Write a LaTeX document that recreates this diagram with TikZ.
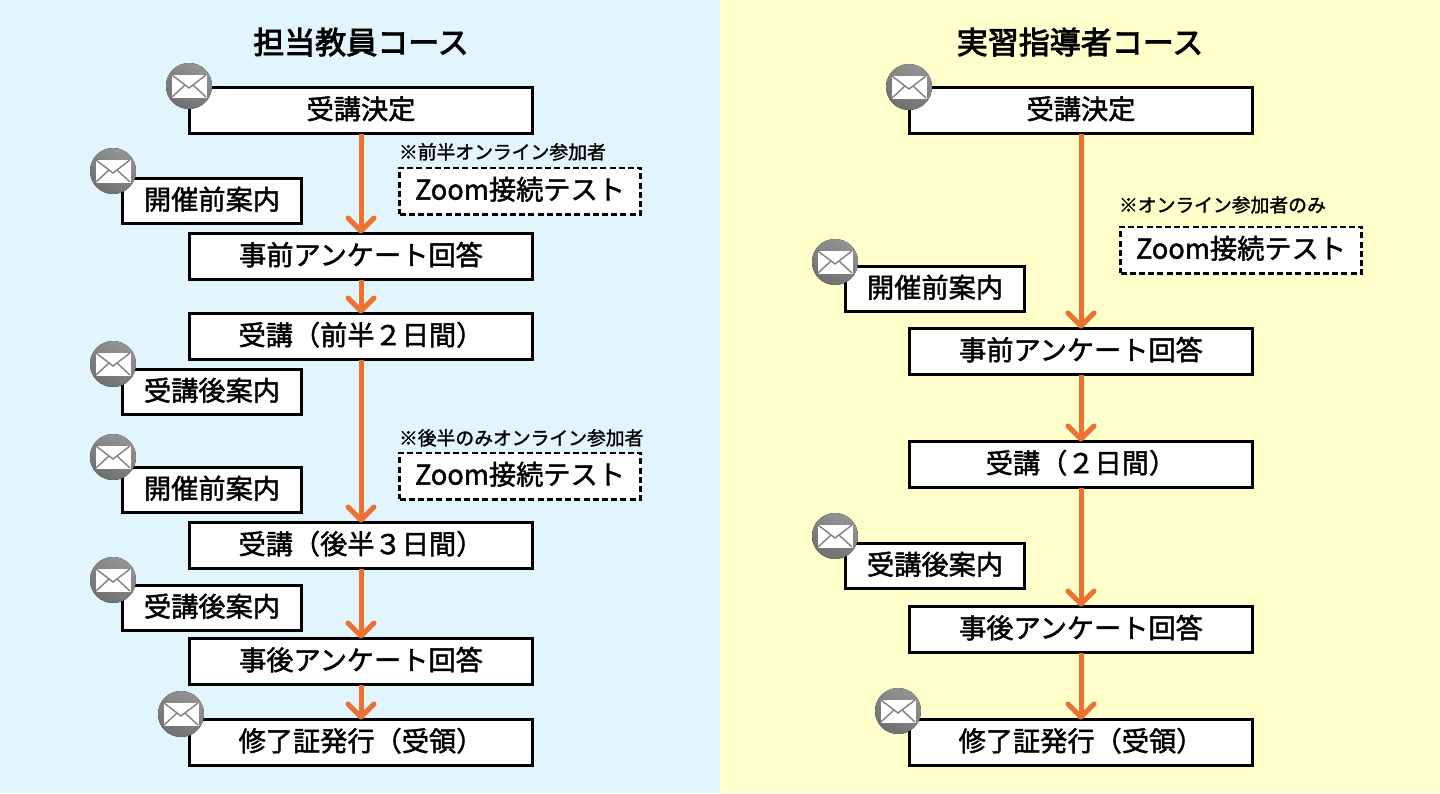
\documentclass[tikz,border=0pt]{standalone}
\usepackage{fontspec}
\setmainfont{Noto Sans CJK JP}[FakeBold=1.6]
\usetikzlibrary{arrows.meta}
\definecolor{panelblue}{HTML}{E2F5FD}
\definecolor{panelyellow}{HTML}{FFFFCC}
\definecolor{flowline}{HTML}{ED7231}
\tikzset{
	mailicon/.pic={
		\fill[top color=black!42, bottom color=black!56, shading angle=-30] (0,0) circle (23);
		\draw[white, fill=white] (-17,-11) rectangle (17,11);
		\draw[black!50, line width=0.7pt] (-17,-11) -- (0,2) -- (17,-11);
		\draw[black!50, line width=0.7pt] (-17,11) -- (-4,-1);
		\draw[black!50, line width=0.7pt] (17,11) -- (4,-1);
	}
}
\begin{document}
\begin{tikzpicture}[
		x=0.5pt, y=-0.5pt,
		every node/.style={font=\fontsize{13.6}{16}\selectfont, text=black, inner sep=0pt, outer sep=0pt, text height=11.8pt, text depth=3.2pt},
		stepbox/.style={draw=black, fill=white, line width=1.5pt, minimum width=171.5pt, minimum height=23pt},
		mailbox/.style={draw=black, fill=white, line width=1.5pt, minimum width=89.5pt, minimum height=22.6pt},
		testbox/.style={draw=black, fill=white, line width=1.1pt, dash pattern=on 3pt off 1.6pt, minimum width=120.5pt, minimum height=23.4pt},
		note/.style={font=\fontsize{9.4}{11}\selectfont, anchor=west, text height=8.2pt, text depth=1.2pt},
		heading/.style={font=\fontsize{15.5}{18}\selectfont\addfontfeature{FakeBold=2.8}, text height=13.6pt, text depth=1.8pt},
		flow/.style={draw=flowline, line width=2.5pt, -{Straight Barb[length=6.5pt, width=13pt, round]}}
	]
	\useasboundingbox (0,0) rectangle (1440,793);
	\fill[panelblue] (0,0) rectangle (720,793);
	\fill[panelyellow] (720,0) rectangle (1440,793);

	% left course
	\node[heading] (titleL) at (361,42) {担当教員コース};
	\node[stepbox] (decideL) at (361,110.5) {受講決定};
	\node[stepbox] (surveyL) at (361,256.5) {事前アンケート回答};
	\node[stepbox] (firstL) at (361,336.5) {受講（前半２日間）};
	\node[stepbox] (secondL) at (361,545.5) {受講（後半３日間）};
	\node[stepbox] (afterL) at (361,661.5) {事後アンケート回答};
	\node[stepbox] (certL) at (361,742.5) {修了証発行（受領）};
	\node[mailbox] (guideA) at (212,201) {開催前案内};
	\node[mailbox] (guideB) at (212,392) {受講後案内};
	\node[mailbox] (guideC) at (212,490) {開催前案内};
	\node[mailbox] (guideD) at (212,608) {受講後案内};
	\node[testbox] (testA) at (520,191) {Zoom接続テスト};
	\node[testbox] (testB) at (520,476) {Zoom接続テスト};
	\node[note] (noteA) at (399,152) {※前半オンライン参加者};
	\node[note] (noteB) at (399,438) {※後半のみオンライン参加者};
	\draw[flow] (decideL) -- (surveyL);
	\draw[flow] (surveyL) -- (firstL);
	\draw[flow] (firstL) -- (secondL);
	\draw[flow] (secondL) -- (afterL);
	\draw[flow] (afterL) -- (certL);
	\pic at (189,86) {mailicon};
	\pic at (113,171) {mailicon};
	\pic at (113,364) {mailicon};
	\pic at (113,457) {mailicon};
	\pic at (113,580) {mailicon};
	\pic at (181,714) {mailicon};

	% right course
	\node[heading] (titleR) at (1080,42) {実習指導者コース};
	\node[stepbox] (decideR) at (1081,110.5) {受講決定};
	\node[stepbox] (surveyR) at (1081,351.5) {事前アンケート回答};
	\node[stepbox] (daysR) at (1081,464.5) {受講（２日間）};
	\node[stepbox] (afterR) at (1081,629.5) {事後アンケート回答};
	\node[stepbox] (certR) at (1081,742.5) {修了証発行（受領）};
	\node[mailbox] (guideE) at (935,289) {開催前案内};
	\node[mailbox] (guideF) at (935,566) {受講後案内};
	\node[testbox] (testC) at (1241,250) {Zoom接続テスト};
	\node[note] (noteC) at (1119,205) {※オンライン参加者のみ};
	\draw[flow] (decideR) -- (surveyR);
	\draw[flow] (surveyR) -- (daysR);
	\draw[flow] (daysR) -- (afterR);
	\draw[flow] (afterR) -- (certR);
	\pic at (909,87) {mailicon};
	\pic at (835,262) {mailicon};
	\pic at (835,536) {mailicon};
	\pic at (898,711) {mailicon};
\end{tikzpicture}
\end{document}
